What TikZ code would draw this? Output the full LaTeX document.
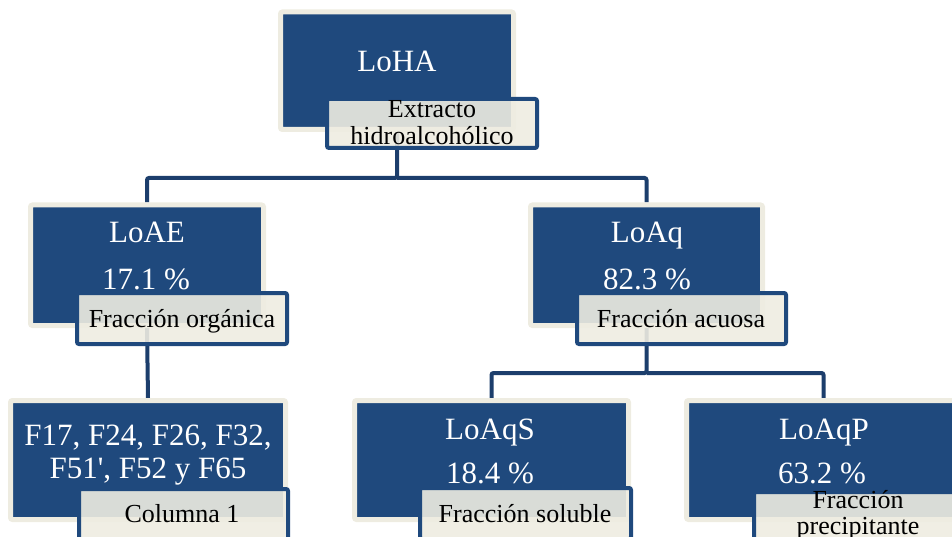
\documentclass[tikz,border=0pt]{standalone}
\usepackage{fontspec}
\setmainfont{Liberation Serif}
\usetikzlibrary{backgrounds}
\definecolor{boxblue}{RGB}{31,73,125}
\definecolor{beige}{RGB}{238,236,225}
\definecolor{linkblue}{RGB}{28,62,108}
\begin{document}
\begin{tikzpicture}[x=1pt,y=-1pt,
  bigbox/.style={draw=beige,fill=boxblue,line width=5pt,rounded corners=2pt,inner sep=0pt,minimum width=#1},
  labelbox/.style={draw=boxblue,fill=beige,fill opacity=0.9,draw opacity=1,line width=4pt,rounded corners=2pt,inner sep=0pt,minimum width=#1,minimum height=51pt},
  bigtext/.style={text=white,font=\fontsize{31}{36}\selectfont,anchor=base,inner sep=0pt},
  labtext/.style={text=black,font=\fontsize{26}{27}\selectfont,anchor=base,inner sep=0pt},
  link/.style={draw=linkblue,line width=4pt,rounded corners=2pt}]
\useasboundingbox (0,0) rectangle (952,537);
\begin{scope}
\clip (0,0) rectangle (952,537);
% junction coordinates
\coordinate (j1) at (397,178);
\coordinate (j2) at (647,373);
% big boxes
\node[bigbox=233pt,minimum height=117.5pt] (ha) at (397,70.75) {};
\node[bigbox=233pt,minimum height=120.5pt] (ae) at (147,265.25) {};
\node[bigbox=232pt,minimum height=120.5pt] (aq) at (646.5,265.25) {};
\node[bigbox=275pt,minimum height=119pt] (f) at (148,460) {};
\node[bigbox=274pt,minimum height=119pt] (aqs) at (491.5,460) {};
\node[bigbox=274pt,minimum height=119pt] (aqp) at (823.5,460) {};
% connectors behind the boxes
\begin{scope}[on background layer]
\draw[link] (ha.south) -- (ha.south |- j1) -| (ae.north);
\draw[link] (ha.south |- j1) -| (aq.north);
\draw[link] (ae.south) -- (f.north);
\draw[link] (aq.south) -- (aq.south |- j2) -| (aqs.north);
\draw[link] (aq.south |- j2) -| (aqp.north);
\end{scope}
% big box texts
\node[bigtext] (tha) at (397,72) {LoHA};
\node[bigtext] (tae1) at (147,243) {LoAE};
\node[bigtext] (tae2) at (146,289) {17.1 \%};
\node[bigtext] (taq1) at (647,243) {LoAq};
\node[bigtext] (taq2) at (647,289) {82.3 \%};
\node[bigtext] (tf1) at (148,445) {F17, F24, F26, F32,};
\node[bigtext] (tf2) at (148,478) {F51\textquotesingle, F52 y F65};
\node[bigtext] (taqs1) at (490,439) {LoAqS};
\node[bigtext] (taqs2) at (490,483) {18.4 \%};
\node[bigtext] (taqp1) at (824,439) {LoAqP};
\node[bigtext] (taqp2) at (822,483) {63.2 \%};
% label boxes
\node[labelbox=210pt,minimum height=49pt] (lha) at (432,123.5) {};
\node[labelbox=210pt] (lae) at (182,318.5) {};
\node[labelbox=209pt] (laq) at (681.5,318.5) {};
\node[labelbox=209pt] (lf) at (183.5,514.5) {};
\node[labelbox=211pt] (laqs) at (525.5,513.5) {};
\node[labelbox=209pt] (laqp) at (858.5,517.5) {};
% label texts
\node[labtext] (tlha1) at (432,118) {Extracto};
\node[labtext] (tlha2) at (432,145) {hidroalcohólico};
\node[labtext] (tlae) at (182,327) {Fracción orgánica};
\node[labtext] (tlaq) at (681,327) {Fracción acuosa};
\node[labtext] (tlf) at (182,522) {Columna 1};
\node[labtext] (tlaqs) at (525,522) {Fracción soluble};
\node[labtext] (tlaqp1) at (858,508) {Fracción};
\node[labtext] (tlaqp2) at (858,534) {precipitante};
\end{scope}
\end{tikzpicture}
\end{document}
